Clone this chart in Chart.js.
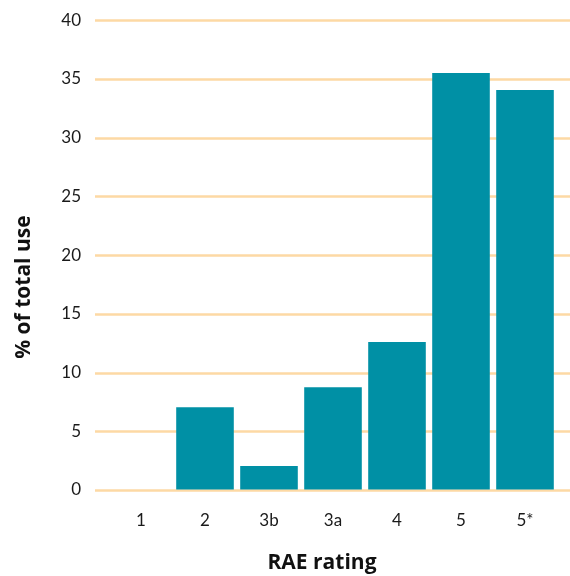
<!DOCTYPE html>
<html><head><meta charset="utf-8">
<script src="https://cdn.jsdelivr.net/npm/chart.js@4/dist/chart.umd.min.js"></script>
<style>html,body{margin:0;padding:0;background:#fff}#wrap{width:570px;height:576px}</style>
</head><body><div id="wrap"><canvas id="c"></canvas></div>
<script>
const categories = ["1","2","3b","3a","4","5","5*"];
const values = [0, 7.05, 2.04, 8.75, 12.6, 35.5, 34.05];
const yTicks = [0,5,10,15,20,25,30,35,40];
const xTitle = 'RAE rating';
const yTitle = '% of total use';

const gridPlugin = {
  id: 'gridExt',
  beforeDatasetsDraw(chart) {
    const y = chart.scales.y, ctx = chart.ctx;
    ctx.save();
    ctx.strokeStyle = '#fdd9a4';
    ctx.lineWidth = 2.5;
    y.ticks.forEach(t => {
      const py = Math.round(y.getPixelForValue(t.value)) + 0.5;
      ctx.beginPath();
      ctx.moveTo(95, py);
      ctx.lineTo(chart.width, py);
      ctx.stroke();
    });
    ctx.restore();
  }
};

const titlePlugin = {
  id: 'axisTitles',
  afterDraw(chart) {
    const ctx = chart.ctx, a = chart.chartArea;
    ctx.save();
    ctx.fillStyle = '#111';
    ctx.font = 'bold 21px "Open Sans"';
    ctx.textAlign = 'center';
    ctx.textBaseline = 'middle';
    ctx.fillText(xTitle, (a.left + a.right) / 2 - 11, 563);
    ctx.translate(24, (a.top + a.bottom) / 2 + 32);
    ctx.rotate(-Math.PI / 2);
    ctx.fillText(yTitle, 0, 0);
    ctx.restore();
  }
};

new Chart(document.getElementById('c'), {
  type: 'bar',
  data: { labels: categories, datasets: [{ data: values, backgroundColor: '#0090a5', barPercentage: 0.9, categoryPercentage: 1.0 }] },
  options: {
    responsive: true, maintainAspectRatio: false, animation: false,
    devicePixelRatio: 1,
    layout: { padding: { top: 10, right: 13, left: 12, bottom: 0 } },
    plugins: { legend: { display: false }, tooltip: { enabled: false } },
    scales: {
      x: {
        grid: { display: false }, border: { display: false },
        afterFit: s => { s.height = 86; },
        ticks: { color: '#1a1a1a', font: { family: 'Lato', size: 17 }, padding: 12 },
        title: { display: false }
      },
      y: {
        min: 0, max: 40,
        afterBuildTicks: s => { s.ticks = yTicks.map(v => ({ value: v })); },
        afterFit: s => { s.width = 97; },
        grid: { display: true, drawOnChartArea: false, drawTicks: true, tickLength: 18, color: 'rgba(0,0,0,0)' },
        border: { display: false },
        ticks: { color: '#1a1a1a', font: { family: 'Lato', size: 17 }, padding: 10 },
        title: { display: false }
      }
    }
  },
  plugins: [gridPlugin, titlePlugin]
});
</script></body></html>
